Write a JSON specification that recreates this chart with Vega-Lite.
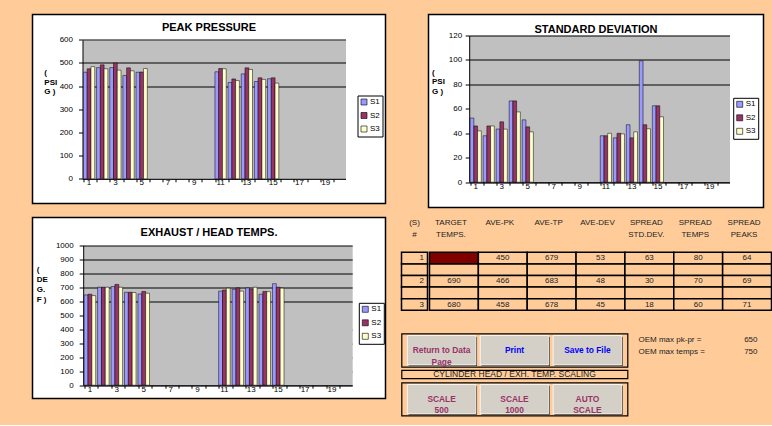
{
  "$schema": "https://vega.github.io/schema/vega-lite/v6.json",
  "background": "#FFCC99",
  "padding": {"left": 31.5, "top": 13.5, "right": 0, "bottom": 8.5},
  "config": {
    "font": "Liberation Sans",
    "view": {"stroke": null},
    "axis": {"labelFont": "Liberation Sans", "titleFont": "Liberation Sans", "labelFontSize": 8, "labelColor": "black", "tickColor": "black", "domainColor": "black", "titleAngle": 0, "titleAlign": "left", "titleBaseline": "top", "titleFontSize": 8, "titleFontWeight": "bold", "titleColor": "black", "labelOverlap": false, "gridOpacity": 1},
    "legend": {"labelFont": "Liberation Sans", "labelFontSize": 8, "labelColor": "black", "symbolType": "square", "symbolSize": 36, "symbolStrokeColor": "black", "symbolStrokeWidth": 0.6, "symbolOpacity": 1, "fillColor": "white", "strokeColor": "black", "padding": 2.5, "rowPadding": 3.5, "labelOffset": 2},
    "title": {"font": "Liberation Sans", "fontSize": 11, "fontWeight": "bold", "color": "black", "anchor": "middle", "baseline": "top", "frame": "group"},
    "text": {"font": "Liberation Sans"}
  },
  "datasets": {
    "peak": [
      {"cyl": 1, "s": "S1", "v": 460}, {"cyl": 1, "s": "S2", "v": 475}, {"cyl": 1, "s": "S3", "v": 484},
      {"cyl": 2, "s": "S1", "v": 480}, {"cyl": 2, "s": "S2", "v": 492}, {"cyl": 2, "s": "S3", "v": 475},
      {"cyl": 3, "s": "S1", "v": 480}, {"cyl": 3, "s": "S2", "v": 500}, {"cyl": 3, "s": "S3", "v": 469},
      {"cyl": 4, "s": "S1", "v": 446}, {"cyl": 4, "s": "S2", "v": 479}, {"cyl": 4, "s": "S3", "v": 466},
      {"cyl": 5, "s": "S1", "v": 460}, {"cyl": 5, "s": "S2", "v": 461}, {"cyl": 5, "s": "S3", "v": 476},
      {"cyl": 11, "s": "S1", "v": 462}, {"cyl": 11, "s": "S2", "v": 476}, {"cyl": 11, "s": "S3", "v": 475},
      {"cyl": 12, "s": "S1", "v": 416}, {"cyl": 12, "s": "S2", "v": 431}, {"cyl": 12, "s": "S3", "v": 424},
      {"cyl": 13, "s": "S1", "v": 453}, {"cyl": 13, "s": "S2", "v": 479}, {"cyl": 13, "s": "S3", "v": 472},
      {"cyl": 14, "s": "S1", "v": 420}, {"cyl": 14, "s": "S2", "v": 436}, {"cyl": 14, "s": "S3", "v": 429},
      {"cyl": 15, "s": "S1", "v": 432}, {"cyl": 15, "s": "S2", "v": 436}, {"cyl": 15, "s": "S3", "v": 413}
    ],
    "std": [
      {"cyl": 1, "s": "S1", "v": 52.5}, {"cyl": 1, "s": "S2", "v": 46}, {"cyl": 1, "s": "S3", "v": 42},
      {"cyl": 2, "s": "S1", "v": 38}, {"cyl": 2, "s": "S2", "v": 46}, {"cyl": 2, "s": "S3", "v": 46},
      {"cyl": 3, "s": "S1", "v": 43.5}, {"cyl": 3, "s": "S2", "v": 49.4}, {"cyl": 3, "s": "S3", "v": 43.4},
      {"cyl": 4, "s": "S1", "v": 66.5}, {"cyl": 4, "s": "S2", "v": 66.5}, {"cyl": 4, "s": "S3", "v": 57.5},
      {"cyl": 5, "s": "S1", "v": 51}, {"cyl": 5, "s": "S2", "v": 45.3}, {"cyl": 5, "s": "S3", "v": 41.2},
      {"cyl": 11, "s": "S1", "v": 38}, {"cyl": 11, "s": "S2", "v": 38}, {"cyl": 11, "s": "S3", "v": 40},
      {"cyl": 12, "s": "S1", "v": 36.3}, {"cyl": 12, "s": "S2", "v": 40}, {"cyl": 12, "s": "S3", "v": 39.5},
      {"cyl": 13, "s": "S1", "v": 47}, {"cyl": 13, "s": "S2", "v": 36.3}, {"cyl": 13, "s": "S3", "v": 41.2},
      {"cyl": 14, "s": "S1", "v": 99.3}, {"cyl": 14, "s": "S2", "v": 47}, {"cyl": 14, "s": "S3", "v": 43.7},
      {"cyl": 15, "s": "S1", "v": 62.5}, {"cyl": 15, "s": "S2", "v": 62.5}, {"cyl": 15, "s": "S3", "v": 53.5}
    ],
    "temps": [
      {"cyl": 1, "s": "S1", "v": 645}, {"cyl": 1, "s": "S2", "v": 650}, {"cyl": 1, "s": "S3", "v": 640},
      {"cyl": 2, "s": "S1", "v": 700}, {"cyl": 2, "s": "S2", "v": 700}, {"cyl": 2, "s": "S3", "v": 700},
      {"cyl": 3, "s": "S1", "v": 705}, {"cyl": 3, "s": "S2", "v": 720}, {"cyl": 3, "s": "S3", "v": 700},
      {"cyl": 4, "s": "S1", "v": 664}, {"cyl": 4, "s": "S2", "v": 664}, {"cyl": 4, "s": "S3", "v": 662},
      {"cyl": 5, "s": "S1", "v": 652}, {"cyl": 5, "s": "S2", "v": 670}, {"cyl": 5, "s": "S3", "v": 657},
      {"cyl": 11, "s": "S1", "v": 672}, {"cyl": 11, "s": "S2", "v": 680}, {"cyl": 11, "s": "S3", "v": 693},
      {"cyl": 12, "s": "S1", "v": 685}, {"cyl": 12, "s": "S2", "v": 695}, {"cyl": 12, "s": "S3", "v": 672},
      {"cyl": 13, "s": "S1", "v": 695}, {"cyl": 13, "s": "S2", "v": 685}, {"cyl": 13, "s": "S3", "v": 700},
      {"cyl": 14, "s": "S1", "v": 650}, {"cyl": 14, "s": "S2", "v": 670}, {"cyl": 14, "s": "S3", "v": 668},
      {"cyl": 15, "s": "S1", "v": 725}, {"cyl": 15, "s": "S2", "v": 700}, {"cyl": 15, "s": "S3", "v": 693}
    ],
    "cells": [
      {"r": "r1", "c": "TARGET TEMPS.", "v": null}, {"r": "r1", "c": "AVE-PK", "v": 450}, {"r": "r1", "c": "AVE-TP", "v": 679}, {"r": "r1", "c": "AVE-DEV", "v": 53}, {"r": "r1", "c": "SPREAD STD.DEV.", "v": 63}, {"r": "r1", "c": "SPREAD TEMPS", "v": 80}, {"r": "r1", "c": "SPREAD PEAKS", "v": 64},
      {"r": "b1", "c": "TARGET TEMPS.", "v": null}, {"r": "b1", "c": "AVE-PK", "v": null}, {"r": "b1", "c": "AVE-TP", "v": null}, {"r": "b1", "c": "AVE-DEV", "v": null}, {"r": "b1", "c": "SPREAD STD.DEV.", "v": null}, {"r": "b1", "c": "SPREAD TEMPS", "v": null}, {"r": "b1", "c": "SPREAD PEAKS", "v": null},
      {"r": "r2", "c": "TARGET TEMPS.", "v": 690}, {"r": "r2", "c": "AVE-PK", "v": 466}, {"r": "r2", "c": "AVE-TP", "v": 683}, {"r": "r2", "c": "AVE-DEV", "v": 48}, {"r": "r2", "c": "SPREAD STD.DEV.", "v": 30}, {"r": "r2", "c": "SPREAD TEMPS", "v": 70}, {"r": "r2", "c": "SPREAD PEAKS", "v": 69},
      {"r": "b2", "c": "TARGET TEMPS.", "v": null}, {"r": "b2", "c": "AVE-PK", "v": null}, {"r": "b2", "c": "AVE-TP", "v": null}, {"r": "b2", "c": "AVE-DEV", "v": null}, {"r": "b2", "c": "SPREAD STD.DEV.", "v": null}, {"r": "b2", "c": "SPREAD TEMPS", "v": null}, {"r": "b2", "c": "SPREAD PEAKS", "v": null},
      {"r": "r3", "c": "TARGET TEMPS.", "v": 680}, {"r": "r3", "c": "AVE-PK", "v": 458}, {"r": "r3", "c": "AVE-TP", "v": 678}, {"r": "r3", "c": "AVE-DEV", "v": 45}, {"r": "r3", "c": "SPREAD STD.DEV.", "v": 18}, {"r": "r3", "c": "SPREAD TEMPS", "v": 60}, {"r": "r3", "c": "SPREAD PEAKS", "v": 71}
    ],
    "headers": [
      {"r": "h1", "c": "TARGET TEMPS.", "t": "TARGET"}, {"r": "h2", "c": "TARGET TEMPS.", "t": "TEMPS."},
      {"r": "h1", "c": "AVE-PK", "t": "AVE-PK"},
      {"r": "h1", "c": "AVE-TP", "t": "AVE-TP"},
      {"r": "h1", "c": "AVE-DEV", "t": "AVE-DEV"},
      {"r": "h1", "c": "SPREAD STD.DEV.", "t": "SPREAD"}, {"r": "h2", "c": "SPREAD STD.DEV.", "t": "STD.DEV."},
      {"r": "h1", "c": "SPREAD TEMPS", "t": "SPREAD"}, {"r": "h2", "c": "SPREAD TEMPS", "t": "TEMPS"},
      {"r": "h1", "c": "SPREAD PEAKS", "t": "SPREAD"}, {"r": "h2", "c": "SPREAD PEAKS", "t": "PEAKS"}
    ],
    "scol": [
      {"r": "h1", "t": "(S)"}, {"r": "h2", "t": "#"},
      {"r": "r1", "t": "1"}, {"r": "b1", "t": null}, {"r": "r2", "t": "2"}, {"r": "b2", "t": null}, {"r": "r3", "t": "3"}
    ],
    "btn1": [
      {"slot": "a", "label": "Return to Data\nPage"},
      {"slot": "b", "label": "Print"},
      {"slot": "c", "label": "Save to File"}
    ],
    "btn2": [
      {"slot": "a", "label": "SCALE\n500"},
      {"slot": "b", "label": "SCALE\n1000"},
      {"slot": "c", "label": "AUTO\nSCALE"}
    ],
    "oem": [
      {"line": 1, "label": "OEM  max pk-pr =", "value": 650},
      {"line": 2, "label": "OEM max temps =", "value": 750}
    ]
  },
  "resolve": {"scale": {"color": "independent", "x": "independent", "y": "independent", "xOffset": "independent"}, "legend": {"color": "independent"}, "axis": {"x": "independent", "y": "independent"}},
  "spacing": 8,
  "vconcat": [
    {
      "spacing": 41,
      "resolve": {"scale": {"color": "independent", "x": "independent", "y": "independent", "xOffset": "independent"}, "legend": {"color": "independent"}, "axis": {"x": "independent", "y": "independent"}},
      "hconcat": [
        {
          "width": 353, "height": 189,
          "view": {"fill": "white", "stroke": "black", "strokeWidth": 1.5},
          "title": {"text": "PEAK PRESSURE", "offset": -18.8},
          "data": {"name": "peak"},
          "mark": {"type": "bar", "stroke": "black", "strokeWidth": 0.5},
          "encoding": {
            "x": {"field": "cyl", "type": "ordinal",
                  "scale": {"domain": [1,2,3,4,5,6,7,8,9,10,11,12,13,14,15,16,17,18,19,20], "range": [50, 313], "paddingInner": 0, "paddingOuter": 0},
                  "axis": {"title": null, "offset": -24.7, "bandPosition": 0.12, "labelExpr": "datum.value % 2 == 1 ? datum.label : ''", "labelAngle": 0, "labelPadding": -3, "tickSize": 3, "grid": false}},
            "xOffset": {"field": "s", "type": "nominal", "scale": {"paddingInner": 0, "paddingOuter": 0.25}},
            "y": {"field": "v", "type": "quantitative",
                  "scale": {"domain": [0, 600], "range": [164.3, 25.3], "nice": false, "zero": true},
                  "axis": {"title": ["(", "PSI", "G )"], "titleX": -38.7, "titleY": 54, "titleLineHeight": 9.5, "offset": -50, "values": [300, 0, 100, 200, 400, 500, 600], "grid": true, "format": "d",
                           "gridWidth": {"condition": {"test": "datum.value === 300", "value": 139}, "value": 1},
                           "gridColor": {"condition": {"test": "datum.value === 300", "value": "#C0C0C0"}, "value": "black"},
                           "tickSize": 4, "labelPadding": 6}},
            "color": {"field": "s", "type": "nominal", "scale": {"domain": ["S1", "S2", "S3"], "range": ["#9999FF", "#993366", "#FFFFCC"]},
                      "legend": {"orient": "none", "legendX": 325, "legendY": 81, "title": null}}
          }
        },
        {
          "width": 335, "height": 193,
          "view": {"fill": "white", "stroke": "black", "strokeWidth": 1.5},
          "title": {"text": "STANDARD DEVIATION", "offset": -20.2},
          "data": {"name": "std"},
          "mark": {"type": "bar", "stroke": "black", "strokeWidth": 0.5},
          "encoding": {
            "x": {"field": "cyl", "type": "ordinal",
                  "scale": {"domain": [1,2,3,4,5,6,7,8,9,10,11,12,13,14,15,16,17,18,19,20], "range": [40.7, 301], "paddingInner": 0, "paddingOuter": 0},
                  "axis": {"title": null, "offset": -25.3, "bandPosition": 0.12, "labelExpr": "datum.value % 2 == 1 ? datum.label : ''", "labelAngle": 0, "labelPadding": -3, "tickSize": 3, "grid": false}},
            "xOffset": {"field": "s", "type": "nominal", "scale": {"paddingInner": 0, "paddingOuter": 0.25}},
            "y": {"field": "v", "type": "quantitative",
                  "scale": {"domain": [0, 120], "range": [167.7, 21], "nice": false, "zero": true},
                  "axis": {"title": ["(", "PSI", "G )"], "titleX": -37.7, "titleY": 53.5, "titleLineHeight": 9.8, "offset": -40.7, "values": [60, 0, 20, 40, 80, 100, 120], "grid": true, "format": "d",
                           "gridWidth": {"condition": {"test": "datum.value === 60", "value": 146.7}, "value": 1},
                           "gridColor": {"condition": {"test": "datum.value === 60", "value": "#C0C0C0"}, "value": "black"},
                           "tickSize": 4, "labelPadding": 3.5}},
            "color": {"field": "s", "type": "nominal", "scale": {"domain": ["S1", "S2", "S3"], "range": ["#9999FF", "#993366", "#FFFFCC"]},
                      "legend": {"orient": "none", "legendX": 304.7, "legendY": 83.3, "title": null}}
          }
        }
      ]
    },
    {
      "spacing": 14,
      "resolve": {"scale": {"color": "independent", "x": "independent", "y": "independent", "xOffset": "independent"}, "legend": {"color": "independent"}, "axis": {"x": "independent", "y": "independent"}},
      "hconcat": [
        {
          "width": 353, "height": 181,
          "view": {"fill": "white", "stroke": "black", "strokeWidth": 1.5},
          "title": {"text": "EXHAUST / HEAD TEMPS.", "offset": -20.2},
          "data": {"name": "temps"},
          "mark": {"type": "bar", "stroke": "black", "strokeWidth": 0.5},
          "encoding": {
            "x": {"field": "cyl", "type": "ordinal",
                  "scale": {"domain": [1,2,3,4,5,6,7,8,9,10,11,12,13,14,15,16,17,18,19,20], "range": [50.7, 319.7], "paddingInner": 0, "paddingOuter": 0},
                  "axis": {"title": null, "offset": -13.3, "bandPosition": 0.12, "labelExpr": "datum.value % 2 == 1 ? datum.label : ''", "labelAngle": 0, "labelPadding": -3, "tickSize": 3, "grid": false}},
            "xOffset": {"field": "s", "type": "nominal", "scale": {"paddingInner": 0, "paddingOuter": 0.25}},
            "y": {"field": "v", "type": "quantitative",
                  "scale": {"domain": [0, 1000], "range": [167.7, 27.7], "nice": false, "zero": true},
                  "axis": {"title": ["(", "DE", "G.", "F )"], "titleX": -47, "titleY": 47.5, "titleLineHeight": 10, "offset": -50.7, "values": [500, 0, 100, 200, 300, 400, 600, 700, 800, 900, 1000], "grid": true, "format": "d",
                           "gridWidth": {"condition": {"test": "datum.value === 500", "value": 140}, "value": 1},
                           "gridColor": {"condition": {"test": "datum.value === 500", "value": "#C0C0C0"}, "value": "black"},
                           "tickSize": 4, "labelPadding": 6}},
            "color": {"field": "s", "type": "nominal", "scale": {"domain": ["S1", "S2", "S3"], "range": ["#9999FF", "#993366", "#FFFFCC"]},
                      "legend": {"orient": "none", "legendX": 326.3, "legendY": 85.3, "title": null}}
          }
        },
        {
          "spacing": 21,
          "resolve": {"scale": {"color": "independent", "x": "independent", "y": "independent"}, "axis": {"x": "independent", "y": "independent"}},
          "vconcat": [
            {
              "spacing": 0,
              "resolve": {"scale": {"color": "independent", "x": "independent", "y": "independent"}, "axis": {"x": "independent", "y": "independent"}},
              "hconcat": [
                {
                  "width": 26, "height": 92.8,
                  "data": {"name": "scol"},
                  "encoding": {"y": {"field": "r", "type": "nominal", "scale": {"type": "band", "domain": ["h1", "h2", "h3", "r1", "b1", "r2", "b2", "r3"], "paddingInner": 0, "paddingOuter": 0}, "axis": null}},
                  "layer": [
                    {"transform": [{"filter": "datum.r[0] !== 'h'"}], "mark": {"type": "rect", "fill": "#FFCC99", "stroke": "black", "strokeWidth": 1.5}},
                    {"transform": [{"filter": "datum.r[0] === 'h'"}], "mark": {"type": "text", "fontSize": 8, "color": "#222"}, "encoding": {"text": {"field": "t"}}},
                    {"transform": [{"filter": "datum.r[0] === 'r'"}], "mark": {"type": "text", "fontSize": 8, "color": "#222", "align": "right", "dx": 9.5}, "encoding": {"text": {"field": "t"}}}
                  ]
                },
                {
                  "width": 342, "height": 92.8,
                  "encoding": {
                    "x": {"field": "c", "type": "nominal", "scale": {"type": "band", "domain": ["TARGET TEMPS.", "AVE-PK", "AVE-TP", "AVE-DEV", "SPREAD STD.DEV.", "SPREAD TEMPS", "SPREAD PEAKS"], "paddingInner": 0, "paddingOuter": 0}, "axis": null},
                    "y": {"field": "r", "type": "nominal", "scale": {"type": "band", "domain": ["h1", "h2", "h3", "r1", "b1", "r2", "b2", "r3"], "paddingInner": 0, "paddingOuter": 0}, "axis": null}
                  },
                  "layer": [
                    {"data": {"name": "cells"}, "mark": {"type": "rect", "stroke": "black", "strokeWidth": 1.5},
                     "encoding": {"fill": {"condition": {"test": "datum.r === 'r1' && datum.c === 'TARGET TEMPS.'", "value": "#800000"}, "value": "#FFCC99"}}},
                    {"data": {"name": "cells"}, "transform": [{"filter": "isValid(datum.v)"}], "mark": {"type": "text", "fontSize": 8, "color": "#222"},
                     "encoding": {"text": {"field": "v", "type": "nominal"}}},
                    {"data": {"name": "headers"}, "mark": {"type": "text", "fontSize": 8, "color": "#222", "dx": -3},
                     "encoding": {"text": {"field": "t"}}}
                  ]
                }
              ]
            },
            {
              "spacing": 10,
              "resolve": {"scale": {"color": "independent", "x": "independent", "y": "independent"}, "axis": {"x": "independent", "y": "independent"}},
              "hconcat": [
                {
                  "spacing": 1.5,
                  "resolve": {"scale": {"color": "independent", "x": "independent", "y": "independent"}, "axis": {"x": "independent", "y": "independent"}},
                  "vconcat": [
                    {
                      "width": 226, "height": 33.4,
                      "view": {"stroke": "black", "strokeWidth": 1.2},
                      "data": {"name": "btn1"},
                      "encoding": {"x": {"field": "slot", "type": "nominal", "scale": {"type": "band", "paddingInner": 0.06, "paddingOuter": 0.08}, "axis": null}},
                      "layer": [
                        {"mark": {"type": "rect", "fill": "#404040", "xOffset": 1.2, "yOffset": 1.2, "y2Offset": 1.2},
                         "encoding": {"y": {"datum": 0.06, "type": "quantitative", "scale": {"domain": [0, 1], "nice": false}, "axis": null}, "y2": {"datum": 0.94}}},
                        {"mark": {"type": "rect", "fill": "#D4D0C8", "stroke": "white", "strokeWidth": 0.8},
                         "encoding": {"y": {"datum": 0.06, "type": "quantitative", "scale": {"domain": [0, 1], "nice": false}, "axis": null}, "y2": {"datum": 0.94}}},
                        {"mark": {"type": "text", "fontSize": 8.4, "fontWeight": "bold", "lineBreak": "\n", "lineHeight": 12},
                         "encoding": {"text": {"field": "label"}, "color": {"condition": {"test": "datum.slot === 'a'", "value": "#993366"}, "value": "#0000FF"}}}
                      ]
                    },
                    {
                      "width": 226, "height": 8.3,
                      "view": {"stroke": "black", "strokeWidth": 1.2},
                      "data": {"values": [{"t": "CYLINDER HEAD / EXH. TEMP. SCALING"}]},
                      "mark": {"type": "text", "fontSize": 8.5, "color": "#222", "baseline": "middle"},
                      "encoding": {"text": {"field": "t"}}
                    },
                    {
                      "width": 226, "height": 33,
                      "view": {"stroke": "black", "strokeWidth": 1.2},
                      "data": {"name": "btn2"},
                      "encoding": {"x": {"field": "slot", "type": "nominal", "scale": {"type": "band", "paddingInner": 0.06, "paddingOuter": 0.08}, "axis": null}},
                      "layer": [
                        {"mark": {"type": "rect", "fill": "#404040", "xOffset": 1.2, "yOffset": 1.2, "y2Offset": 1.2},
                         "encoding": {"y": {"datum": 0.06, "type": "quantitative", "scale": {"domain": [0, 1], "nice": false}, "axis": null}, "y2": {"datum": 0.94}}},
                        {"mark": {"type": "rect", "fill": "#D4D0C8", "stroke": "white", "strokeWidth": 0.8},
                         "encoding": {"y": {"datum": 0.06, "type": "quantitative", "scale": {"domain": [0, 1], "nice": false}, "axis": null}, "y2": {"datum": 0.94}}},
                        {"mark": {"type": "text", "fontSize": 8.4, "fontWeight": "bold", "lineBreak": "\n", "lineHeight": 11, "color": "#993366"},
                         "encoding": {"text": {"field": "label"}}}
                      ]
                    }
                  ]
                },
                {
                  "width": 119, "height": 24,
                  "data": {"name": "oem"},
                  "encoding": {"y": {"field": "line", "type": "ordinal", "scale": {"type": "band", "paddingInner": 0, "paddingOuter": 0}, "axis": null}},
                  "layer": [
                    {"mark": {"type": "text", "align": "left", "fontSize": 8, "color": "#222"},
                     "encoding": {"x": {"datum": "l", "type": "nominal", "bandPosition": 0, "scale": {"type": "band", "domain": ["l", "v"], "paddingInner": 0, "paddingOuter": 0}, "axis": null}, "text": {"field": "label"}}},
                    {"mark": {"type": "text", "align": "right", "fontSize": 8, "color": "#222"},
                     "encoding": {"x": {"datum": "v", "type": "nominal", "bandPosition": 1, "scale": {"type": "band", "domain": ["l", "v"], "paddingInner": 0, "paddingOuter": 0}, "axis": null}, "text": {"field": "value"}}}
                  ]
                }
              ]
            }
          ]
        }
      ]
    }
  ]
}
